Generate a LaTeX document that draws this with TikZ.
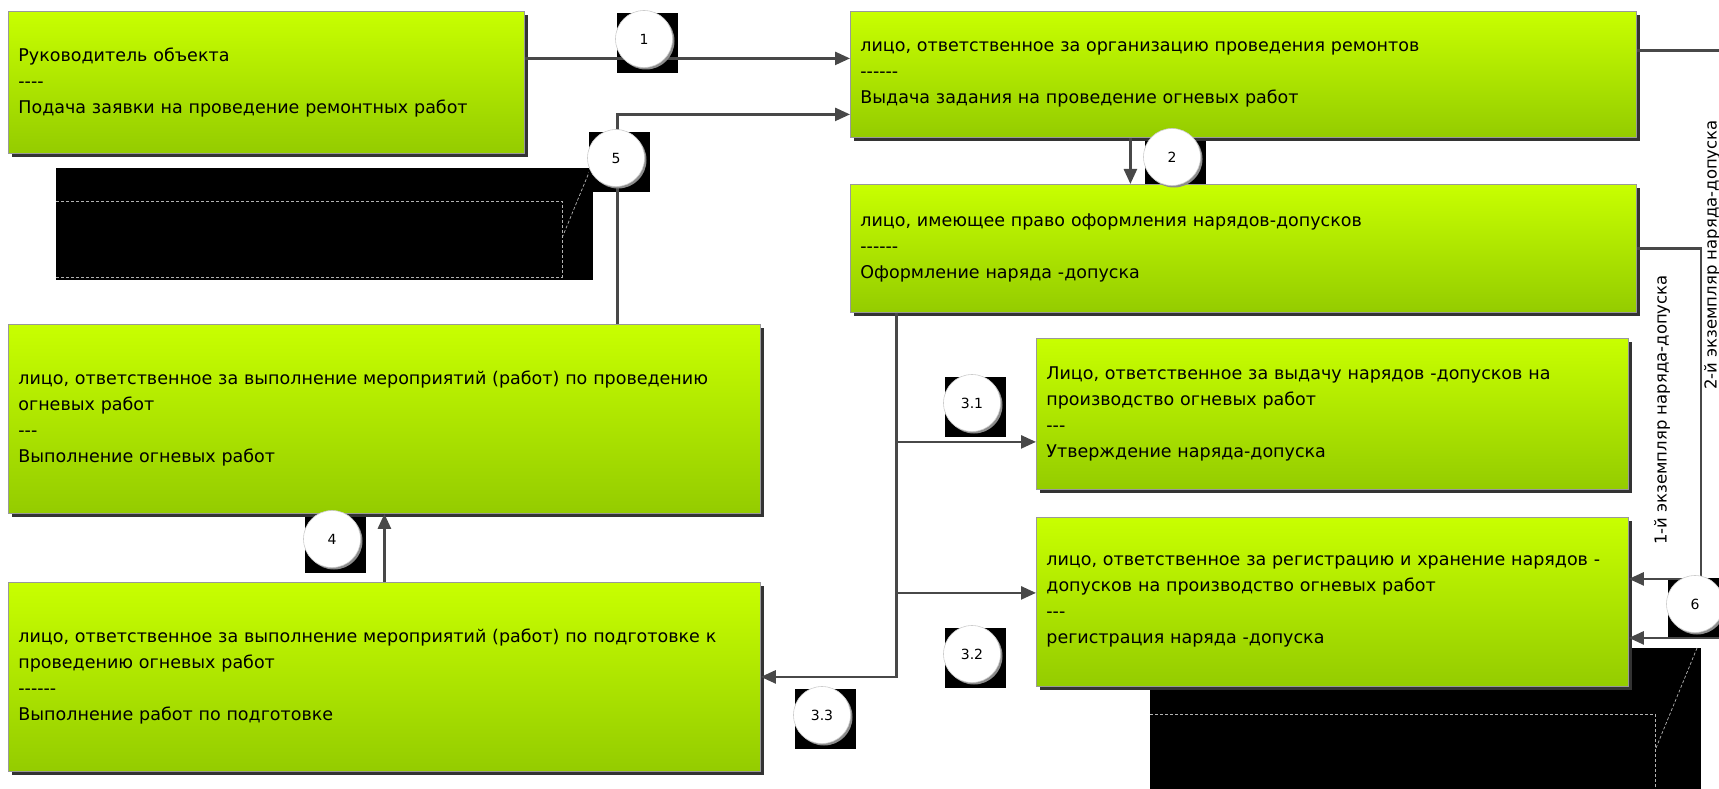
\documentclass[tikz,border=0pt]{standalone}
\usepackage{fontspec}
\setmainfont{DejaVu Sans}
\usepackage{tikz}
\usetikzlibrary{arrows.meta}
\usetikzlibrary{shadows}

\definecolor{limetop}{RGB}{200,255,0}
\definecolor{limebot}{RGB}{148,204,0}
\definecolor{liniya}{RGB}{72,72,72}

\newcommand{\razd}[1]{\foreach \k in {1,...,#1}{-\kern0pt}}

\tikzset{
  blok/.style={draw=black!40, line width=0.8pt, top color=limetop, bottom color=limebot,
    anchor=north west, align=left, inner xsep=10pt, inner ysep=0pt,
    font=\fontsize{17.5}{26}\selectfont,
    general shadow={fill=black!80, shadow xshift=4pt, shadow yshift=-4pt}},
  strelka/.style={draw=liniya, line width=2.5pt, -{Triangle[length=15pt,width=13pt]}},
  krug/.style={circle, fill=white, draw=black!20, line width=0.6pt, minimum size=57pt,
    inner sep=0pt, font=\fontsize{14}{14}\selectfont,
    general shadow={fill=black!45, shadow xshift=2pt, shadow yshift=-2pt}},
  podlozhka/.style={fill=black, minimum width=61pt, minimum height=60pt, inner sep=0pt},
  podpis/.style={rotate=90, font=\fontsize{16.5}{16.5}\selectfont},
  vynoska/.style={draw=white!70!black, densely dashed, line width=0.7pt},
}

\begin{document}
\begin{tikzpicture}[x=1pt, y=-1pt]
        \def\nomera{1/1/647/43, 2/2/1175/161, 31/3.1/975/407, 32/3.2/975/658,
                    33/3.3/825/719, 4/4/335/543, 5/5/619/162, 6/6/1698/608}
        \clip (0,0) rectangle (1719,789);
        % vynoski
        \fill (56,168) rectangle (593,280);
        \draw [vynoska] (56,201) -- (562,201) -- (562,277) -- (56,277);
        \draw [vynoska] (590,170) -- (562,238);
        \fill (1150,648) rectangle (1701,789);
        \draw [vynoska] (1150,714) -- (1655,714) -- (1655,789);
        \draw [vynoska] (1697,648) -- (1656,748);
        \foreach \n/\t/\x/\y in \nomera
            \node [podlozhka] (p\n) at (\x,\y) {};
        % bloki
        \node [blok, text width=496pt, minimum height=142pt] (ruk) at (8,11)
            {Руководитель объекта\\\razd{4}\\Подача заявки на проведение ремонтных работ};
        \node [blok, text width=766pt, minimum height=126pt] (otv) at (850,11)
            {лицо, ответственное за организацию проведения ремонтов\\\razd{6}\\Выдача задания на проведение огневых работ};
        \node [blok, text width=766pt, minimum height=128pt] (oform) at (850,184)
            {лицо, имеющее право оформления нарядов-допусков\\\razd{6}\\Оформление наряда -допуска};
        \node [blok, text width=572pt, minimum height=151pt] (utv) at (1036,338)
            {Лицо, ответственное за выдачу нарядов -допусков на\\производство огневых работ\\\razd{3}\\Утверждение наряда-допуска};
        \node [blok, text width=572pt, minimum height=169pt] (reg) at (1036,517)
            {\mbox{лицо, ответственное за регистрацию и хранение нарядов -}\\допусков на производство огневых работ\\\razd{3}\\регистрация наряда -допуска};
        \node [blok, text width=732pt, minimum height=189pt] (vyp) at (8,324)
            {\mbox{лицо, ответственное за выполнение мероприятий (работ) по проведению}\\огневых работ\\\razd{3}\\Выполнение огневых работ};
        \node [blok, text width=732pt, minimum height=189pt] (podg) at (8,582)
            {\mbox{лицо, ответственное за выполнение мероприятий (работ) по подготовке к}\\проведению огневых работ\\\razd{6}\\Выполнение работ по подготовке};
        % strelki
        \coordinate (vh1) at ([yshift=16pt]otv.west);
        \coordinate (vh5) at ([yshift=-40pt]otv.west);
        \draw [strelka] (ruk.east |- vh1) -- (vh1);
        \draw [strelka] ([xshift=233pt]vyp.north) |- (vh5);
        \draw [strelka] ([xshift=-113pt]otv.south) -- ([xshift=-113pt]oform.north);
        \coordinate (razv) at ([xshift=-347pt]oform.south);
        \draw [strelka] (razv) |- (podg.east);
        \draw [strelka] (razv) |- ([yshift=-28pt]utv.west);
        \draw [strelka] (razv) |- ([yshift=9pt]reg.west);
        \draw [strelka] (podg.north) -- (vyp.south);
        \draw [strelka] (oform.east) -- ++(64,0) |- ([yshift=23pt]reg.east);
        \draw [strelka] ([yshift=24pt]otv.east) -- ++(100,0) |- ([yshift=-36pt]reg.east);
        \node [podpis] (ekz1) at (1662,410) {1-й экземпляр наряда-допуска};
        \node [podpis] (ekz2) at (1712,255) {2-й экземпляр наряда-допуска};
        % nomera
        \foreach \n/\t/\x/\y in \nomera
            \node [krug] (k\n) at ([xshift=-3pt, yshift=4pt]p\n.center) {\t};
\end{tikzpicture}
\end{document}
